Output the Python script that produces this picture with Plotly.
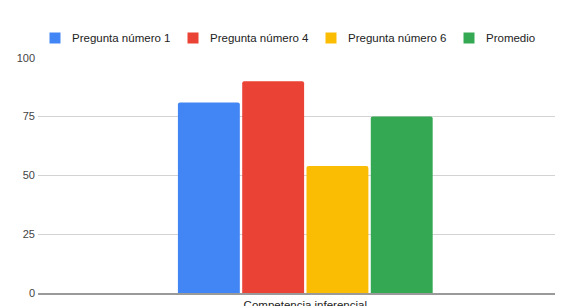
import plotly.graph_objects as go

categories = ["Competencia inferencial"]
series_names = ["Pregunta número 1", "Pregunta número 4", "Pregunta número 6", "Promedio"]
series_values = [[81], [90], [54], [75]]
colors = ["#4285F4", "#EA4335", "#FBBC04", "#34A853"]
y_ticks = [0, 25, 50, 75, 100]

W, H = 563, 306
OFF = 8  # page body margin offset in the browser
ML, MR, MT, MB = 30, 0, 49, 21
PW, PH = W - ML - MR, H - MT - MB

def px_x(px):
    return (px - OFF - ML) / PW

def px_y(py):
    return (H - MB - (py - OFF)) / PH

fig = go.Figure()
for name, vals, c in zip(series_names, series_values, colors):
    fig.add_trace(go.Bar(x=categories, y=vals, name=name, showlegend=False,
                         marker=dict(color=c, line=dict(width=0))))

# custom legend (swatch + text) across the top
legend_swatch_left = [49.5, 187.5, 325.5, 463.5]
shapes, annotations = [], []
for name, c, sx in zip(series_names, colors, legend_swatch_left):
    shapes.append(dict(type="rect", xref="paper", yref="paper",
                       x0=px_x(sx), x1=px_x(sx + 11), y0=px_y(43.5), y1=px_y(32.5),
                       fillcolor=c, line=dict(width=0), layer="above"))
    annotations.append(dict(xref="paper", yref="paper", x=px_x(sx + 20), y=px_y(38),
                            xanchor="left", yanchor="middle", showarrow=False, text=name,
                            font=dict(size=11.5, color="#222")))

fig.update_layout(
    width=W, height=H,
    margin=dict(l=ML, r=MR, t=MT, b=MB),
    paper_bgcolor="white", plot_bgcolor="white",
    font=dict(family="Liberation Sans, Arial", size=11, color="#444"),
    barmode="group", bargap=0.519, bargroupgap=0.037, barcornerradius=2,
    showlegend=False,
    shapes=shapes, annotations=annotations,
    xaxis=dict(range=[-0.5, 0.497], showgrid=False, showline=True, linecolor="#9a9a9a", linewidth=1.5,
               ticks="", tickfont=dict(size=11.5, color="#222"), fixedrange=True, zeroline=False,
               automargin=False),
    yaxis=dict(range=[0, 100.3], tickvals=y_ticks, showgrid=True, gridcolor="#d3d3d3", gridwidth=1,
               zeroline=False, ticks="", tickfont=dict(size=11, color="#444"), fixedrange=True,
               automargin=False, ticklabelstandoff=2),
)

fig.write_html("out.html", config={"displayModeBar": False})
